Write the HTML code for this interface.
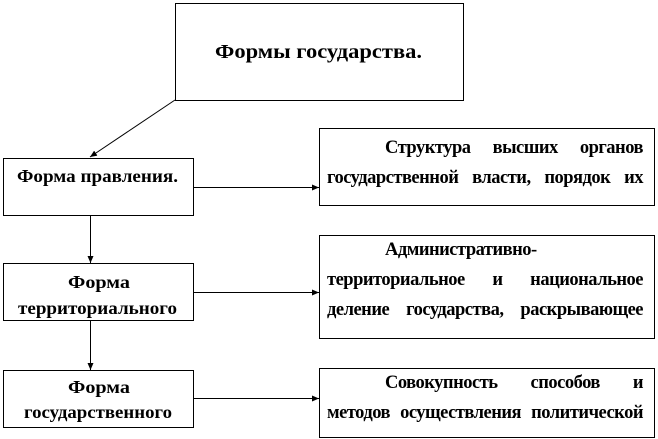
<!DOCTYPE html>
<html><head><meta charset="utf-8"><style>
html,body{margin:0;padding:0;background:#fff;}
svg{display:block;position:absolute;left:0;top:0;}
text{font-family:"Liberation Serif",serif;font-weight:bold;font-size:18px;fill:#000;}
.l{position:absolute;left:327px;width:316px;font-family:"Liberation Serif",serif;font-weight:bold;font-size:18.5px;letter-spacing:-0.5px;line-height:20px;height:20px;white-space:nowrap;text-align:justify;text-align-last:justify;overflow:visible;}
.i{left:385px;width:258px;}
</style></head><body>
<svg width="658" height="439" viewBox="0 0 658 439" xmlns="http://www.w3.org/2000/svg">
<defs><marker id="a" markerWidth="8" markerHeight="8" refX="7" refY="4" orient="auto" markerUnits="userSpaceOnUse"><path d="M0,1 L7,4 L0,7 z" fill="#000"/></marker></defs>
<g fill="none" stroke="#000" stroke-width="1">
<rect x="175.5" y="3.5" width="288" height="97"/>
<rect x="3.5" y="158.5" width="190" height="57"/>
<rect x="319.5" y="128.5" width="335" height="77"/>
<rect x="3.5" y="263.5" width="190" height="57"/>
<rect x="319.5" y="235.5" width="335" height="103"/>
<rect x="3.5" y="370.5" width="190" height="57"/>
<rect x="319.5" y="368.5" width="335" height="69"/>
<line x1="175" y1="100" x2="90" y2="157" marker-end="url(#a)"/>
<line x1="194" y1="187.5" x2="319" y2="187.5" marker-end="url(#a)"/>
<line x1="90.5" y1="216" x2="90.5" y2="263" marker-end="url(#a)"/>
<line x1="194" y1="292.5" x2="319" y2="292.5" marker-end="url(#a)"/>
<line x1="90.5" y1="321" x2="90.5" y2="370" marker-end="url(#a)"/>
<line x1="194" y1="398.5" x2="319" y2="398.5" marker-end="url(#a)"/>
</g>
<text x="215" y="58" style="font-size:20px" textLength="207" lengthAdjust="spacingAndGlyphs">Формы государства.</text>
<text x="17" y="182" textLength="161" lengthAdjust="spacingAndGlyphs">Форма правления.</text>
<text x="68" y="288" textLength="62" lengthAdjust="spacingAndGlyphs">Форма</text>
<text x="18" y="314" textLength="159" lengthAdjust="spacingAndGlyphs">территориального</text>
<text x="68" y="393" textLength="62" lengthAdjust="spacingAndGlyphs">Форма</text>
<text x="24" y="418" textLength="148" lengthAdjust="spacingAndGlyphs">государственного</text>
</svg>
<div class="l i" style="top:138px">Структура высших органов</div>
<div class="l" style="top:168px">государственной власти, порядок их</div>
<div class="l" style="top:240px;text-align-last:left;left:385px">Административно-</div>
<div class="l" style="top:270px">территориальное и национальное</div>
<div class="l" style="top:300px">деление государства, раскрывающее</div>
<div class="l i" style="top:373px">Совокупность способов и</div>
<div class="l" style="top:403px">методов осуществления политической</div>
</body></html>
